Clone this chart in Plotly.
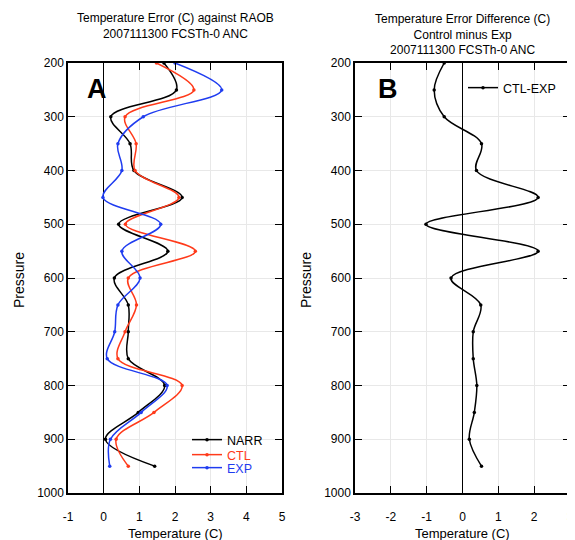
import plotly.graph_objects as go

pressure = [200, 250, 300, 350, 400, 450, 500, 550, 600, 650, 700, 750, 800, 850, 900, 950]
narr = [1.69, 2.04, 0.20, 0.74, 0.85, 2.20, 0.42, 1.80, 0.30, 0.69, 0.69, 0.69, 1.71, 0.97, 0.05, 1.43]
ctl = [1.48, 2.53, 0.60, 0.91, 0.88, 2.11, 0.61, 2.57, 0.69, 0.92, 0.60, 0.40, 2.20, 1.41, 0.35, 0.69]
exp_ = [2.00, 3.31, 1.11, 0.40, 0.51, -0.02, 1.60, 0.51, 1.02, 0.40, 0.31, 0.10, 1.78, 1.05, 0.19, 0.17]
ctl_minus_exp = [-0.51, -0.79, -0.51, 0.53, 0.39, 2.11, -1.02, 2.11, -0.32, 0.51, 0.30, 0.30, 0.40, 0.33, 0.19, 0.53]

y_ticks = [200, 300, 400, 500, 600, 700, 800, 900, 1000]
x_ticks_a = [-1, 0, 1, 2, 3, 4, 5]
x_ticks_b = [-3, -2, -1, 0, 1, 2, 3]

RED = "#ff3a1a"
BLUE = "#1f3cf0"
FONT = "Liberation Sans, Arial, sans-serif"

# page body has an 8px margin; work in window pixel coordinates
OFF = 8
W, H = 575 - OFF, 540 - OFF
def px(x):
    return (x - OFF) / W
def py(y):
    return 1 - (y - OFF) / H

fig = go.Figure()

def add(x, name, color, xa, ya, legend):
    fig.add_trace(go.Scatter(
        x=x, y=pressure, name=name, mode="lines+markers",
        line=dict(color=color, width=1.5, shape="spline", smoothing=1.0),
        marker=dict(color=color, size=3.5),
        xaxis=xa, yaxis=ya, legend=legend))

add(narr, "NARR", "black", "x", "y", "legend")
add(ctl, f"<span style='color:{RED}'>CTL</span>", RED, "x", "y", "legend3")
add(exp_, f"<span style='color:{BLUE}'>EXP</span>", BLUE, "x", "y", "legend4")
add(ctl_minus_exp, "CTL-EXP", "black", "x2", "y2", "legend2")

ax_common = dict(
    showline=True, linecolor="black", linewidth=1.5, mirror="ticks",
    ticks="inside", ticklen=7, tickcolor="black", tickwidth=1.2,
    showgrid=True, gridcolor="#e8e8e8", gridwidth=1, automargin=False,
    tickfont=dict(family=FONT, size=12, color="black"),
)

def fmt(v):
    return str(v)

def leg(x, y):
    return dict(x=px(x), y=py(y), xanchor="left", yanchor="top",
                bgcolor="rgba(0,0,0,0)", font=dict(family=FONT, size=12.5, color="black"),
                itemwidth=30, borderwidth=0)

fig.update_layout(
    width=W, height=H,
    margin=dict(l=0, r=0, t=0, b=0, autoexpand=False),
    paper_bgcolor="white", plot_bgcolor="white",
    font=dict(family=FONT, size=12, color="black"),
    xaxis=dict(domain=[px(68), px(282)], range=[-1, 5], tickvals=x_ticks_a,
               ticktext=[fmt(v) for v in x_ticks_a], ticklabelstandoff=12,
               zeroline=True, zerolinecolor="black", zerolinewidth=1.2,
               anchor="y", **ax_common),
    yaxis=dict(domain=[py(493), py(63)], range=[1000, 200], tickvals=y_ticks,
               ticktext=[fmt(v) for v in y_ticks],
               zeroline=False, anchor="x", **ax_common),
    xaxis2=dict(domain=[px(355), px(570)], range=[-3, 3], tickvals=x_ticks_b,
                ticktext=[fmt(v) for v in x_ticks_b], ticklabelstandoff=12,
                zeroline=True, zerolinecolor="black", zerolinewidth=1.2,
                anchor="y2", **ax_common),
    yaxis2=dict(domain=[py(493), py(63)], range=[1000, 200], tickvals=y_ticks,
                ticktext=[fmt(v) for v in y_ticks],
                zeroline=False, anchor="x2", **ax_common),
    legend=leg(187, 425),
    legend3=leg(187, 440),
    legend4=leg(187, 453),
    legend2=leg(463, 73),
    showlegend=True,
)

annotations = [
    dict(text="Temperature Error (C) against RAOB<br>2007111300 FCSTh-0 ANC",
         x=px(175), y=py(9), xanchor="center", yanchor="top", font=dict(size=12)),
    dict(text="Temperature Error Difference (C)<br>Control minus Exp<br>2007111300 FCSTh-0 ANC",
         x=px(462), y=py(10), xanchor="center", yanchor="top", font=dict(size=12)),
    dict(text="Temperature (C)", x=px(175), y=py(533), xanchor="center", yanchor="middle",
         font=dict(size=13)),
    dict(text="Temperature (C)", x=px(462), y=py(533), xanchor="center", yanchor="middle",
         font=dict(size=13)),
    dict(text="Pressure", x=px(19), y=py(280), textangle=-90, xanchor="center", yanchor="middle",
         font=dict(size=14)),
    dict(text="Pressure", x=px(306), y=py(280), textangle=-90, xanchor="center", yanchor="middle",
         font=dict(size=14)),
    dict(text="<b>A</b>", x=px(97), y=py(89), xanchor="center", yanchor="middle",
         font=dict(size=27)),
    dict(text="<b>B</b>", x=px(388), y=py(89), xanchor="center", yanchor="middle",
         font=dict(size=27)),
]
for a in annotations:
    a.update(xref="paper", yref="paper", showarrow=False)
    a["font"] = dict(family=FONT, color="black", **a["font"])
fig.update_layout(annotations=annotations)

fig.write_html("out.html")
